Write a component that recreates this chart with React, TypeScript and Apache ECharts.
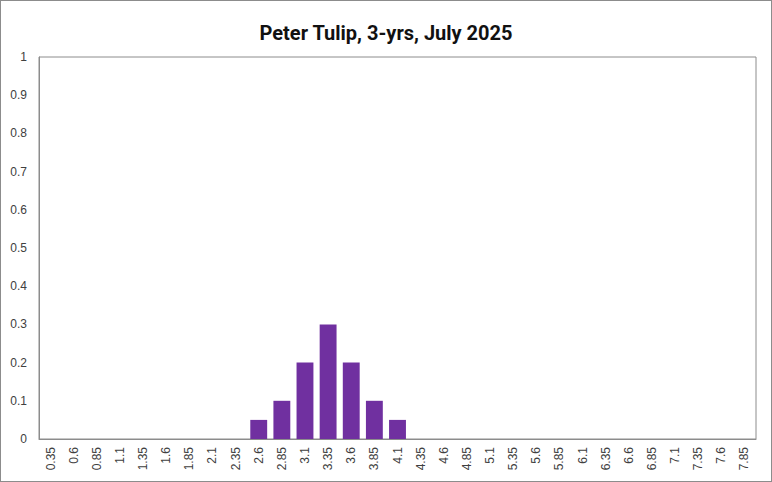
import { useEffect, useRef } from 'react';
import * as echarts from 'echarts';

const TITLE = 'Peter Tulip, 3-yrs, July 2025';

const categories = [
  '0.35', '0.6', '0.85', '1.1', '1.35', '1.6', '1.85', '2.1', '2.35', '2.6', '2.85',
  '3.1', '3.35', '3.6', '3.85', '4.1', '4.35', '4.6', '4.85', '5.1', '5.35', '5.6',
  '5.85', '6.1', '6.35', '6.6', '6.85', '7.1', '7.35', '7.6', '7.85',
];

const probabilities = [
  0, 0, 0, 0, 0, 0, 0, 0, 0, 0.05, 0.1,
  0.2, 0.3, 0.2, 0.1, 0.05, 0, 0, 0, 0, 0, 0,
  0, 0, 0, 0, 0, 0, 0, 0, 0,
];

export default function App() {
  const chartRef = useRef<HTMLDivElement>(null);

  useEffect(() => {
    document.body.style.margin = '0';
    if (!chartRef.current) {
      return;
    }
    const chart = echarts.init(chartRef.current, undefined, { renderer: 'svg' });

    const option: echarts.EChartsOption = {
      animation: false,
      title: {
        text: TITLE,
        left: 'center',
        top: 17,
        textStyle: {
          fontFamily: 'Roboto, Arial, sans-serif',
          fontSize: 20,
          fontWeight: 'bold',
          color: '#111',
        },
      },
      grid: {
        left: 38,
        right: 15,
        top: 56,
        bottom: 42,
        show: true,
        borderColor: '#8c8c8c',
        borderWidth: 1,
      },
      xAxis: {
        type: 'category',
        data: categories,
        axisLine: { lineStyle: { color: '#8c8c8c' } },
        axisTick: { inside: true, length: 4, lineStyle: { color: '#8c8c8c' } },
        axisLabel: {
          interval: 0,
          rotate: 90,
          margin: 8,
          fontSize: 12,
          color: '#404040',
          fontFamily: 'Liberation Sans, Arial, sans-serif',
        },
      },
      yAxis: {
        type: 'value',
        min: 0,
        max: 1,
        interval: 0.1,
        axisLine: { show: true, lineStyle: { color: '#8c8c8c' } },
        axisTick: { show: false },
        splitLine: { show: false },
        axisLabel: {
          margin: 12,
          fontSize: 12,
          color: '#404040',
          fontFamily: 'Liberation Sans, Arial, sans-serif',
        },
      },
      series: [
        {
          type: 'bar',
          data: probabilities,
          barCategoryGap: '27%',
          itemStyle: { color: '#7030a0' },
        },
      ],
    };

    chart.setOption(option);
    return () => {
      chart.dispose();
    };
  }, []);

  return (
    <div
      style={{
        width: 772,
        height: 482,
        border: '1px solid #8c8c8c',
        boxSizing: 'border-box',
        background: '#fff',
      }}
    >
      <div ref={chartRef} style={{ width: 770, height: 480 }} />
    </div>
  );
}
